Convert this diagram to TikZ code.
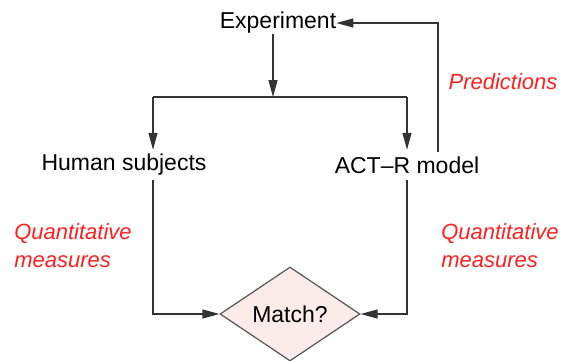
\documentclass[tikz,border=0pt]{standalone}
\usepackage{fontspec}
\setmainfont{Liberation Sans}
\usepackage{xcolor}
\usepackage{tikz}
\usetikzlibrary{arrows.meta,positioning,shapes.geometric,calc}
\definecolor{ink}{HTML}{333333}
\definecolor{note}{HTML}{FF2020}
\definecolor{blush}{HTML}{FCEBEB}
\definecolor{rule}{HTML}{555555}
\tikzset{
  txt/.style={font=\fontsize{23}{28}\selectfont, text=black, inner sep=2pt,
              minimum height=30pt},
  gate/.style={diamond, draw=rule, fill=blush, line width=1.2pt,
               minimum width=140pt, minimum height=94pt, inner sep=0pt,
               font=\fontsize{23}{28}\selectfont},
  lbl/.style={font=\fontsize{22}{28}\selectfont\itshape, text=note, align=left},
  fl/.style={-{Triangle[length=17pt,width=9pt]}, draw=ink, line width=1.2pt},
  ln/.style={draw=ink, line width=1.2pt}
}

\begin{document}
\begin{tikzpicture}[x=1pt,y=-1pt]
  \useasboundingbox (0,0) rectangle (567,360);
  \node[txt] (exp) at (278,23) {Experiment};
  \node[txt] (hs) at (124,165) {Human subjects};
  \node[txt] (act) at (407,165) {ACT--R model};
  \node[gate] (match) at (290,314) {Match?};

  \node[lbl] (pred) at (503,82) {Predictions};
  \node[lbl] (qmL) at (73,246) {Quantitative\\measures};
  \node[lbl] (qmR) at (500,246) {Quantitative\\measures};

  % split from the experiment to both sides
  \coordinate (barL) at (153,97);
  \coordinate (barR) at (act.north |- barL);
  \coordinate (fb) at (438,152);
  \draw[fl] ([yshift=4pt]exp.south -| 273,0) -- (273,97);
  \draw[ln] (barL) -- (barR);
  \draw[fl] (barL) -- (barL |- hs.north);
  \draw[fl] (barR) -- (act.north);
  \draw[fl] (fb) |- ([xshift=-2pt]exp.east);

  % results go to the comparison
  \draw[fl] (barL |- hs.south) |- (match.west);
  \draw[fl] (act.south) |- (match.east);
\end{tikzpicture}
\end{document}
